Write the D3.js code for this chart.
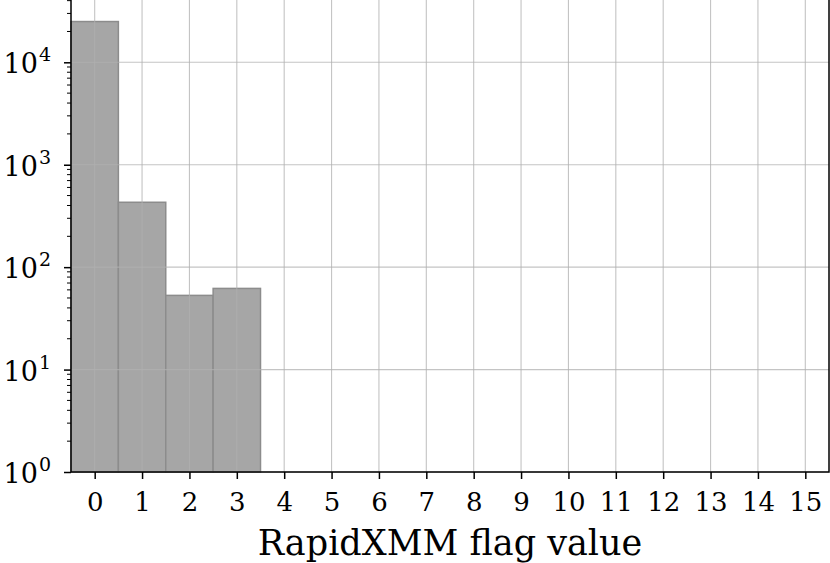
<!DOCTYPE html>
<html><head><meta charset="utf-8">
<script src="https://cdn.jsdelivr.net/npm/d3@7"></script>
<style>
html,body{margin:0;padding:0;background:#fff;}
svg{display:block;font-family:"DejaVu Serif",serif;}
svg text{font-family:"DejaVu Serif",serif;}
</style></head>
<body>
<svg id="chart" width="830" height="563"></svg>
<script>
// Data
const flags = [0,1,2,3,4,5,6,7,8,9,10,11,12,13,14,15];
const counts = [25000, 430, 53, 62, 0,0,0,0,0,0,0,0,0,0,0,0];
const yTickExps = [0,1,2,3,4];
const xLabel = "RapidXMM flag value";

const W = 830, H = 563;
const m = {left:71, right:1, top:-1, bottom:91};
const svg = d3.select("#chart");
const x = d3.scaleLinear().domain([-0.5, 15.5]).range([m.left, W - m.right]);
const y = d3.scaleLog().domain([1, 41500]).range([H - m.bottom, m.top]);

const g = svg.append("g");
// bars
g.selectAll("rect.bar").data(flags.map((f,i)=>({f, c:counts[i]})).filter(d=>d.c>0))
  .enter().append("rect")
  .attr("x", d=>x(d.f-0.5)).attr("width", d=>x(d.f+0.5)-x(d.f-0.5))
  .attr("y", d=>y(d.c)).attr("height", d=>y(1)-y(d.c))
  .attr("fill", "#a6a6a6").attr("stroke", "#8c8c8c").attr("stroke-width", 1.5);

// grid (drawn on top)
const grid = svg.append("g").attr("stroke", "#b0b0b0").attr("stroke-opacity", 0.75).attr("stroke-width", 1.1);
flags.forEach(f => grid.append("line").attr("x1", x(f)).attr("x2", x(f)).attr("y1", y.range()[0]).attr("y2", y.range()[1]));
yTickExps.forEach(e => grid.append("line").attr("x1", x.range()[0]).attr("x2", x.range()[1]).attr("y1", y(Math.pow(10,e))).attr("y2", y(Math.pow(10,e))));

// x axis
const xAxis = d3.axisBottom(x).tickValues(flags).tickFormat(d3.format("d")).tickSize(7).tickPadding(14);
const xg = svg.append("g").attr("transform", `translate(0,${y.range()[0]})`).call(xAxis);
xg.attr("font-family", "DejaVu Serif");
xg.select(".domain").remove();
xg.selectAll(".tick line").attr("stroke", "#000").attr("stroke-width", 1.5);
xg.selectAll(".tick text").attr("font-size", 26).attr("font-family", "DejaVu Serif").attr("fill", "#000");

// y axis major
const yg = svg.append("g").attr("transform", `translate(${m.left},0)`);
const yAxis = d3.axisLeft(y).tickValues(yTickExps.map(e=>Math.pow(10,e))).tickSize(7).tickFormat("");
yg.call(yAxis);
yg.attr("font-family", "DejaVu Serif");
yg.select(".domain").remove();
yg.selectAll(".tick line").attr("stroke", "#000").attr("stroke-width", 1.5);
// minor ticks
const minors = [];
for (let e=0;e<5;e++) for (let k=2;k<10;k++){ const v=k*Math.pow(10,e); if (v<=y.domain()[1]) minors.push(v); }
yg.selectAll("line.minor").data(minors).enter().append("line")
  .attr("x1",-4).attr("x2",0).attr("y1",d=>y(d)).attr("y2",d=>y(d))
  .attr("stroke","#000").attr("stroke-width",1);
// y tick labels 10^n
yTickExps.forEach(e => {
  const t = yg.append("text").attr("x", -20).attr("y", y(Math.pow(10,e)) + 11)
    .attr("text-anchor","end").attr("font-size",27).attr("font-family","DejaVu Serif").attr("fill","#000");
  t.append("tspan").text("10");
  t.append("tspan").attr("font-size",19).attr("dx",1).attr("dy",-12).text(String(e));
});

// spines
const sp = svg.append("g").attr("stroke","#000").attr("stroke-width",1.5).attr("fill","none");
sp.append("rect").attr("x", x.range()[0]).attr("y", y.range()[1])
  .attr("width", x.range()[1]-x.range()[0]).attr("height", y.range()[0]-y.range()[1]);

// x label
svg.append("text").attr("x", (x.range()[0]+x.range()[1])/2).attr("y", 555)
  .attr("text-anchor","middle").attr("font-size",35).attr("font-family","DejaVu Serif").attr("fill","#000").text(xLabel);
</script>
</body></html>
